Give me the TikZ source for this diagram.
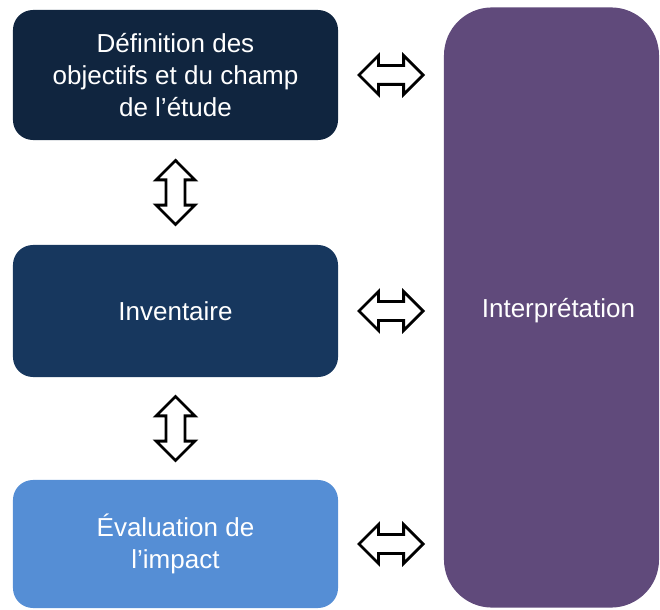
\documentclass[tikz,border=0pt]{standalone}
\usepackage{fontspec}
\setmainfont{Liberation Sans}
\usetikzlibrary{positioning}
\usetikzlibrary{calc}
\usetikzlibrary{shapes.arrows}
\definecolor{navydark}{HTML}{10253F}
\definecolor{navymid}{HTML}{17375E}
\definecolor{bluelight}{HTML}{558ED5}
\definecolor{purpledark}{HTML}{604A7B}
\tikzstyle{stage}=[shape=rectangle,rounded corners=0.5cm,text=white,align=center,minimum width=8.125cm,minimum height=3.25cm,font=\fontsize{18.5}{22.7}\selectfont]
\tikzstyle{fatarrow}=[shape=double arrow,draw=black,fill=white,line width=2pt,inner sep=0.2cm,minimum height=1.6cm,double arrow head extend=0.25cm]

\begin{document}
\begin{tikzpicture}[x=0.025cm,y=-0.025cm]
	\useasboundingbox (0,0) rectangle (660,610);

	% Stages
	\node[stage,fill=navydark] (objectifs) at (175.5,75) {Définition des\\objectifs et du champ\\de l’étude};
	\node[stage,fill=navymid,minimum height=3.3cm] (inventaire) at (175.5,311) {Inventaire};
	\node[stage,fill=bluelight,minimum height=3.2cm] (impact) at (175.5,544) {Évaluation de\\l’impact};
	\node[stage,fill=purpledark,minimum width=5.375cm,minimum height=15.0cm,rounded corners=1.2cm] (interp) at (551.5,307.5) {};
	\node[text=white,font=\fontsize{18.5}{22.7}\selectfont] (interplabel) at ($(interp.center) + (7, 3.5)$) {Interprétation};

	% Links
	\node[fatarrow] (a1) at ($(objectifs.east)!0.5!(objectifs.east -| interp.west)$) {};
	\node[fatarrow] (a2) at ($(inventaire.east)!0.5!(inventaire.east -| interp.west)$) {};
	\node[fatarrow] (a3) at ($(impact.east)!0.5!(impact.east -| interp.west)$) {};
	\node[fatarrow,rotate=90] (v1) at ($(objectifs.south)!0.5!(inventaire.north)$) {};
	\node[fatarrow,rotate=90] (v2) at ($(inventaire.south)!0.5!(impact.north)$) {};

\end{tikzpicture}
\end{document}
